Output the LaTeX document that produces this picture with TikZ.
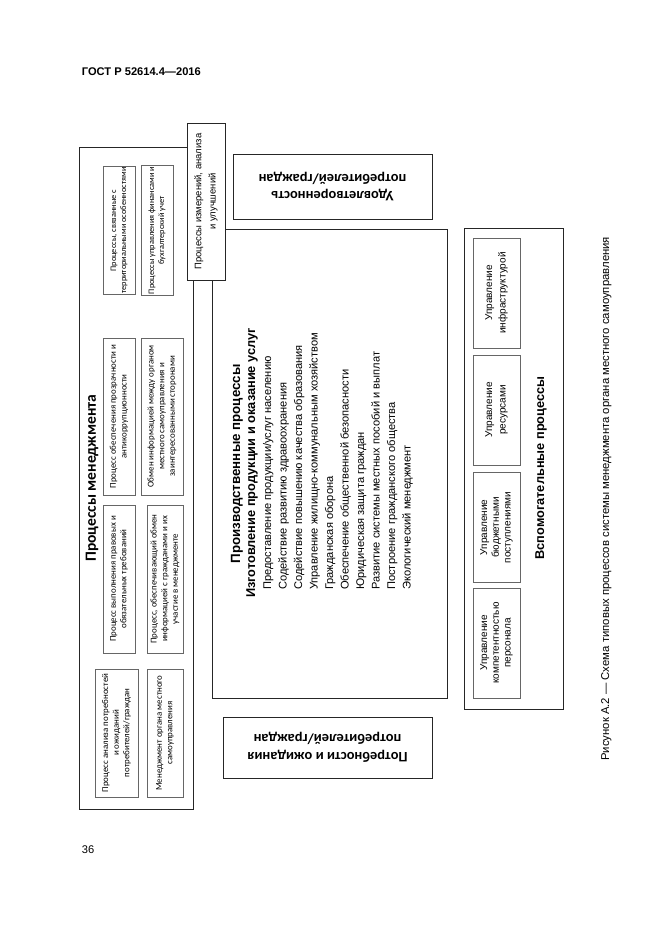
\documentclass[tikz,border=0pt]{standalone}
\usepackage{fontspec}
\setmainfont{Liberation Sans}
\newfontfamily\carlitofont{Carlito}
\def\pxu{0.9pt}

\tikzset{
  outerbox/.style={draw=black!85, line width=0.6pt},
  innerbox/.style={draw=black!60, line width=0.9pt, align=center, inner sep=1pt,
    rotate=90, font=\carlitofont\fontsize{8}{9.6}\selectfont},
  auxbox/.style={draw=black!60, line width=0.9pt, align=center, inner sep=1pt,
    rotate=90, font=\fontsize{9}{12}\selectfont},
  sidebox/.style={outerbox, rotate=180, align=center,
    font=\carlitofont\bfseries\fontsize{13}{16}\selectfont},
  listitem/.style={rotate=90, anchor=base west, inner sep=0pt, font=\fontsize{10}{12}\selectfont},
  heading/.style={rotate=90, inner sep=0pt, font=\bfseries\fontsize{12}{14}\selectfont}
}

\begin{document}
\begin{tikzpicture}[x=0.9pt, y=-0.9pt]
  \useasboundingbox[fill=white] (0,0) rectangle (661,935);

  \node[anchor=base west, font=\bfseries\fontsize{10}{12}\selectfont] (gost) at (78,75) {ГОСТ Р 52614.4—2016};
  \node[anchor=base west, font=\fontsize{10}{12}\selectfont] (page) at (78,853) {36};

  % management
  \node[outerbox, minimum width=114*\pxu, minimum height=662*\pxu] (mgmt) at (136,478) {};
  \node[heading, font=\carlitofont\bfseries\fontsize{14}{16}\selectfont] (mgmttitle) at (92,478) {Процессы менеджмента};
  \node[innerbox, minimum width=125*\pxu, minimum height=32*\pxu, font=\carlitofont\fontsize{7.5}{9}\selectfont] (terr) at (119,230.5)
    {Процессы, связанные с\\территориальными особенностями};
  \node[innerbox, minimum width=125*\pxu, minimum height=32*\pxu, font=\carlitofont\fontsize{7.5}{9}\selectfont] (fin) at (157,230.5)
    {Процессы управления финансами и\\бухгалтерский учет};
  \node[innerbox, minimum width=157*\pxu, minimum height=32*\pxu] (transp) at (119,416.5)
    {Процесс обеспечения прозрачности и\\антикоррупционности};
  \node[innerbox, minimum width=157*\pxu, minimum height=42*\pxu] (exch) at (162,416.5)
    {Обмен информацией между органом\\местного самоуправления и\\заинтересованными сторонами};
  \node[innerbox, minimum width=148*\pxu, minimum height=32*\pxu] (legal) at (119,579)
    {Процесс выполнения правовых и\\обязательных требований};
  \node[innerbox, minimum width=148*\pxu, minimum height=36*\pxu] (citiz) at (165,579)
    {Процесс, обеспечивающий обмен\\информацией с гражданами и их\\участие в менеджменте};
  \node[innerbox, minimum width=128*\pxu, minimum height=43*\pxu] (needs) at (116.5,733)
    {Процесс анализа потребностей\\и ожиданий\\потребителей/граждан};
  \node[innerbox, minimum width=128*\pxu, minimum height=36*\pxu] (local) at (165,733)
    {Менеджмент органа местного\\самоуправления};

  % production
  \node[outerbox, minimum width=235*\pxu, minimum height=469*\pxu] (prod) at (329.5,463.5) {};
  \node[heading] (prodtitle) at (237,464) {Производственные процессы};
  \node[heading, font=\bfseries\fontsize{11.5}{14}\selectfont] (prodsub) at (252,463) {Изготовление продукции и оказание услуг};
  \node[listitem] (item1) at (271,590) {Предоставление продукции/услуг населению};
  \node[listitem] (item2) at (286.5,590) {Содействие развитию здравоохранения};
  \node[listitem] (item3) at (302,590) {Содействие повышению качества образования};
  \node[listitem] (item4) at (317.5,590) {Управление жилищно-коммунальным хозяйством};
  \node[listitem] (item5) at (333,590) {Гражданская оборона};
  \node[listitem] (item6) at (348.5,590) {Обеспечение общественной безопасности};
  \node[listitem] (item7) at (364,590) {Юридическая защита граждан};
  \node[listitem] (item8) at (379.5,590) {Развитие системы местных пособий и выплат};
  \node[listitem] (item9) at (395,590) {Построение гражданского общества};
  \node[listitem] (item10) at (410.5,590) {Экологический менеджмент};

  % measurement, on top of both corners
  \node[outerbox, fill=white, rotate=90, align=center, minimum width=157*\pxu, minimum height=38*\pxu,
    font=\fontsize{8.5}{13}\selectfont] (meas) at (206,201.5) {Процессы измерений, анализа\\и улучшений};

  % customers
  \node[sidebox, minimum width=199*\pxu, minimum height=65*\pxu] (satisf) at (332.5,186.5)
    {Удовлетворенность\\потребителей/граждан};
  \node[sidebox, minimum width=209*\pxu, minimum height=61*\pxu] (expect) at (327.5,747.5)
    {Потребности и ожидания\\потребителей/граждан};

  % support
  \node[outerbox, minimum width=99*\pxu, minimum height=481*\pxu] (aux) at (513.5,468.5) {};
  \node[auxbox, minimum width=110*\pxu, minimum height=47*\pxu] (infra) at (496.5,293) {Управление\\инфраструктурой};
  \node[auxbox, minimum width=110*\pxu, minimum height=47*\pxu] (res) at (496.5,410) {Управление\\ресурсами};
  \node[auxbox, minimum width=110*\pxu, minimum height=47*\pxu, font=\fontsize{9}{10.5}\selectfont] (budget) at (496.5,527.5)
    {Управление\\бюджетными\\поступлениями};
  \node[auxbox, minimum width=110*\pxu, minimum height=47*\pxu, font=\fontsize{9}{10.5}\selectfont] (staff) at (496.5,643)
    {Управление\\компетентностью\\персонала};
  \node[heading, font=\bfseries\fontsize{11.5}{14}\selectfont] (auxtitle) at (541,468) {Вспомогательные процессы};

  \node[rotate=90, anchor=base east, font=\fontsize{10.2}{12}\selectfont] (caption) at (609,233)
    {Рисунок А.2 — Схема типовых процессов системы менеджмента органа местного самоуправления};
\end{tikzpicture}
\end{document}
